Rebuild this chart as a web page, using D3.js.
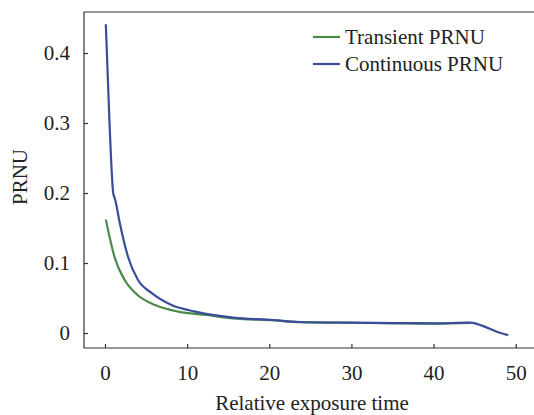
<!DOCTYPE html>
<html>
<head>
<meta charset="utf-8">
<script src="https://cdn.jsdelivr.net/npm/d3@7"></script>
</head>
<body style="margin:0">
<script>
// exposure time vs PRNU
const TIME_CONT = [0.1, 0.55, 1.0, 1.25, 1.8, 2.8, 4.0, 5.7, 8.1, 11, 15.6, 20.5, 23.7, 30, 35, 40, 44.5, 45.9, 47.7, 49.1];
const CONT = [0.441, 0.30, 0.20, 0.19, 0.157, 0.109, 0.076, 0.057, 0.040, 0.0305, 0.022, 0.0186, 0.0157, 0.0148, 0.0142, 0.0138, 0.0148, 0.0105, 0.0019, -0.003];
const TIME_TRANS = [0.1, 1.2, 2.4, 4.0, 6.1, 8.9, 12.4, 15.6, 20.5, 23.7, 30, 40, 44.5];
const TRANS = [0.162, 0.107, 0.0757, 0.054, 0.040, 0.0305, 0.0257, 0.021, 0.0180, 0.0155, 0.0145, 0.0135, 0.0145];

const X_TICKS = [0, 10, 20, 30, 40, 50];
const Y_TICKS = [0, 0.1, 0.2, 0.3, 0.4];

const SERIES = [
  { name: 'Transient PRNU', xs: TIME_TRANS, ys: TRANS, stroke: '#4a8a48' },
  { name: 'Continuous PRNU', xs: TIME_CONT, ys: CONT, stroke: '#3a4d9c' },
];

const fontSize = 21;
const W = 534, H = 415;
const box = { left: 84, top: 12, right: 540, bottom: 348 };

const x = d3.scaleLinear().domain([0, 50]).range([105, 515.7]);
const y = d3.scaleLinear().domain([0, 0.4]).range([333, 53]);

const svg = d3.select('body')
  .append('svg')
  .attr('width', W)
  .attr('height', H);

// frame (left, top, bottom; right side runs off the image)
svg.append('path')
  .attr('d', `M${box.right},${box.top}H${box.left}V${box.bottom}H${box.right}`)
  .attr('fill', 'none')
  .attr('stroke', '#333')
  .attr('stroke-width', 1.2);

const styleAxis = (g) => {
  g.attr('font-family', 'serif').attr('font-size', fontSize);
  g.select('.domain').remove();
  g.selectAll('.tick line').attr('stroke', '#333').attr('stroke-width', 1.2);
  g.selectAll('text').attr('fill', '#222');
};

svg.append('g')
  .attr('transform', `translate(0,${box.bottom})`)
  .call(d3.axisBottom(x).tickValues(X_TICKS).tickFormat(d3.format('d')).tickSizeInner(-4).tickSizeOuter(0).tickPadding(17))
  .call(styleAxis);

svg.append('g')
  .attr('transform', `translate(${box.left},0)`)
  .call(d3.axisLeft(y).tickValues(Y_TICKS).tickFormat((d) => d === 0 ? '0' : d3.format('.1f')(d)).tickSizeInner(-4).tickSizeOuter(0).tickPadding(14))
  .call(styleAxis);

svg.append('text')
  .attr('x', 312)
  .attr('y', 410)
  .attr('text-anchor', 'middle')
  .attr('fill', '#222')
  .text('Relative exposure time');

svg.append('text')
  .attr('transform', 'translate(27,177) rotate(-90)')
  .attr('text-anchor', 'middle')
  .attr('fill', '#222')
  .text('PRNU');

const line = d3.line()
  .x((d) => x(d[0]))
  .y((d) => y(d[1]))
  .curve(d3.curveMonotoneX);

svg.selectAll('.series')
  .data(SERIES)
  .enter()
  .append('path')
  .attr('class', 'series')
  .attr('fill', 'none')
  .attr('stroke', (d) => d.stroke)
  .attr('stroke-width', 2.2)
  .attr('d', (d) => line(d.xs.map((t, i) => [t, d.ys[i]])));

// legend
const legend = svg.selectAll('.legend')
  .data(SERIES)
  .enter()
  .append('g')
  .attr('class', 'legend')
  .attr('transform', (d, i) => `translate(313,${37 + i * 27})`);

legend.append('line')
  .attr('x1', 0).attr('x2', 27)
  .attr('stroke', (d) => d.stroke)
  .attr('stroke-width', 2.2);

legend.append('text')
  .attr('x', 32)
  .attr('dy', '0.35em')
  .attr('fill', '#222')
  .text((d) => d.name);

// same face and size on every label
svg.selectAll('text')
  .attr('font-family', 'serif')
  .attr('font-size', fontSize);
</script>
</body>
</html>
